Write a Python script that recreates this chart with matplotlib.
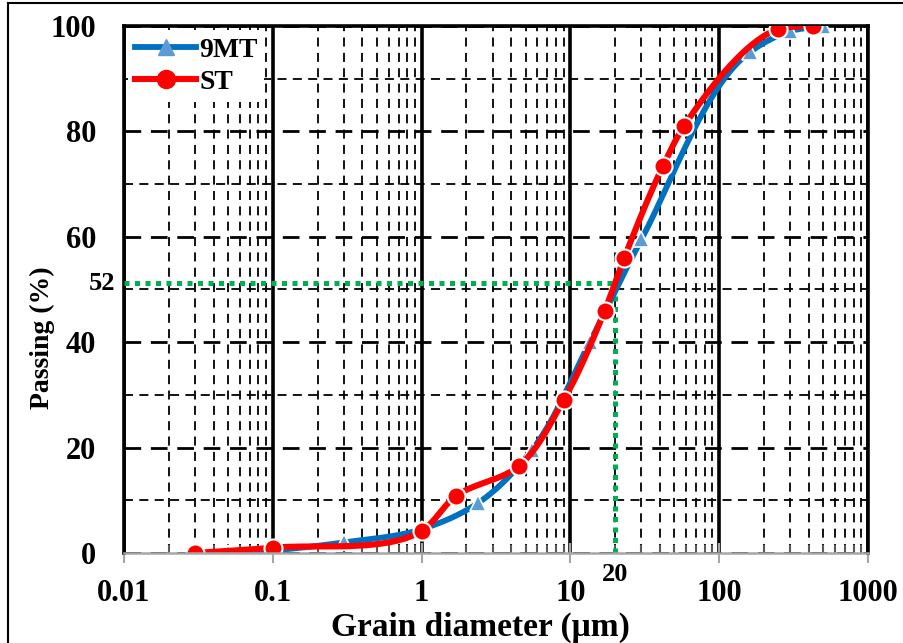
import numpy as np
import matplotlib
matplotlib.use("Agg")
import matplotlib.pyplot as plt
from matplotlib.ticker import LogLocator, MultipleLocator, FixedLocator, NullFormatter
from matplotlib.lines import Line2D

# grain size distribution data
mt9_d = [0.05, 0.1, 0.3, 1.0, 2.4, 5.5, 13.5, 30, 160, 300, 500]
mt9_p = [0.0, 0.5, 2.0, 4.5, 9.5, 19.5, 40.0, 59.5, 95.0, 99.0, 100.0]

st_d = [0.03, 0.1, 1.0, 1.7, 4.5, 9.0, 17, 23, 42, 58, 250, 430]
st_p = [0.0, 1.0, 4.2, 10.8, 16.5, 29.0, 46.0, 56.0, 73.5, 81.0, 99.4, 100.0]

d_mark = 20      # grain diameter marked with the green guide
p_mark = 51.2    # passing value marked with the green guide
p_mark_label = "52"

x_ticks = [0.01, 0.1, 1, 10, 100, 1000]
x_tick_labels = ["0.01", "0.1", "1", "10", "100", "1000"]
y_ticks = [0, 20, 40, 60, 80, 100]

plt.rcParams["font.family"] = ["Liberation Serif", "DejaVu Serif"]
plt.rcParams["font.weight"] = "bold"

fig = plt.figure(figsize=(9.04, 6.43), dpi=100)
ax = fig.add_axes([0.1372, 0.14, 0.823, 0.8196])
ax.set_xscale("log")
ax.set_xlim(0.01, 1000)
ax.set_ylim(0, 100)


def smooth(xs, ys, alpha=0.8, n=40):
    # Catmull-Rom spline in screen space (like Excel "smoothed line")
    pts = ax.transData.transform(np.column_stack([xs, ys]))
    pts = np.vstack([2 * pts[0] - pts[1], pts, 2 * pts[-1] - pts[-2]])
    out = []
    for i in range(1, len(pts) - 2):
        p0, p1, p2, p3 = pts[i - 1], pts[i], pts[i + 1], pts[i + 2]
        t0 = 0.0
        t1 = t0 + max(np.linalg.norm(p1 - p0), 1e-6) ** alpha
        t2 = t1 + max(np.linalg.norm(p2 - p1), 1e-6) ** alpha
        t3 = t2 + max(np.linalg.norm(p3 - p2), 1e-6) ** alpha
        t = np.linspace(t1, t2, n)[:, None]
        a1 = (t1 - t) / (t1 - t0) * p0 + (t - t0) / (t1 - t0) * p1
        a2 = (t2 - t) / (t2 - t1) * p1 + (t - t1) / (t2 - t1) * p2
        a3 = (t3 - t) / (t3 - t2) * p2 + (t - t2) / (t3 - t2) * p3
        b1 = (t2 - t) / (t2 - t0) * a1 + (t - t0) / (t2 - t0) * a2
        b2 = (t3 - t) / (t3 - t1) * a2 + (t - t1) / (t3 - t1) * a3
        c = (t2 - t) / (t2 - t1) * b1 + (t - t1) / (t2 - t1) * b2
        out.append(c)
    curve = ax.transData.inverted().transform(np.vstack(out))
    return curve[:, 0], curve[:, 1]


blue_line = "#0070C0"
blue_mk = "#5B9BD5"
red = "#FF0000"
green = "#00B050"

# grid
ax.xaxis.set_major_locator(FixedLocator(x_ticks))
ax.xaxis.set_minor_locator(LogLocator(base=10, subs=np.arange(2, 10)))
ax.xaxis.set_minor_formatter(NullFormatter())
ax.set_xticklabels(x_tick_labels)
ax.yaxis.set_major_locator(FixedLocator(y_ticks))
ax.yaxis.set_minor_locator(MultipleLocator(10))

ax.xaxis.grid(True, which="major", color="black", lw=2.6, ls="-")
ax.xaxis.grid(True, which="minor", color="black", lw=1.3, ls=(0, (5, 3.5)))
ax.yaxis.grid(True, which="major", color="black", lw=2.0, ls=(0, (6, 3.5)))
ax.yaxis.grid(True, which="minor", color="black", lw=1.3, ls=(0, (5, 3.5)))
ax.set_axisbelow(True)

# green guide lines
ax.plot([0.01, d_mark], [p_mark, p_mark], color=green, lw=3.6, ls=(0, (1, 1.1)),
        solid_capstyle="butt", zorder=3)
ax.plot([d_mark, d_mark], [0, p_mark], color=green, lw=3.6, ls=(0, (1, 1.1)),
        solid_capstyle="butt", zorder=3)

# curves
bx, by = smooth(mt9_d, mt9_p)
ax.plot(bx, by, color=blue_line, lw=4.2, zorder=4)
ax.plot(mt9_d, mt9_p, ls="none", marker="^", ms=12, mfc=blue_mk, mec="white",
        mew=1.2, zorder=5)
rx, ry = smooth(st_d, st_p)
ax.plot(rx, ry, color=red, lw=4.4, zorder=6)
ax.plot(st_d, st_p, ls="none", marker="o", ms=13, mfc=red, mec="white",
        mew=1.5, zorder=7)

# spines and ticks
for s in ["top", "right", "left"]:
    ax.spines[s].set_color("black")
    ax.spines[s].set_linewidth(2.6)
ax.spines["bottom"].set_color("#A6A6A6")
ax.spines["bottom"].set_linewidth(1.8)
ax.spines["bottom"].set_zorder(8)

ax.tick_params(axis="x", which="major", direction="inout", length=15, width=1.5,
               color="#A6A6A6", labelsize=22, pad=11)
ax.tick_params(axis="x", which="minor", direction="in", length=6, width=1.5,
               color="#595959")
ax.tick_params(axis="y", which="both", length=0, labelsize=22, pad=20)
for lab in ax.get_xticklabels() + ax.get_yticklabels():
    lab.set_fontweight("bold")

# marker labels
ax.text(0.0088, p_mark, p_mark_label, ha="right", va="center", fontsize=19,
        fontweight="bold", clip_on=False)
ax.text(d_mark, -4.0, str(d_mark), ha="center", va="center", fontsize=19,
        fontweight="bold", clip_on=False)

# axis labels
fig.text(0.531, 0.024, "Grain diameter (μm)", ha="center", va="center",
         fontsize=24, fontweight="bold")
fig.text(0.047, 0.475, "Passing (%)", ha="center", va="center", rotation=90,
         fontsize=20, fontweight="bold")

# legend
handles = [
    Line2D([], [], color=blue_line, lw=4.2, marker="^", ms=12, mfc=blue_mk, mec=blue_mk),
    Line2D([], [], color=red, lw=4.4, marker="o", ms=13, mfc=red, mec=red),
]
leg = ax.legend(handles, ["9MT", "ST"], loc="upper left", frameon=True,
                fancybox=False, edgecolor="none", facecolor="white", framealpha=1,
                prop={"weight": "bold", "size": 20}, handlelength=2.2,
                handletextpad=0.1, labelspacing=0.25, borderaxespad=0.15,
                borderpad=0.25)
leg.set_zorder(9)

# outer frame of the picture
fig.add_artist(Line2D([0.009, 0.009], [0, 0.995], color="black", lw=1.5,
                      transform=fig.transFigure))
fig.add_artist(Line2D([0.009, 1], [0.995, 0.995], color="black", lw=1.5,
                      transform=fig.transFigure))

fig.savefig("out.png", dpi=100)
